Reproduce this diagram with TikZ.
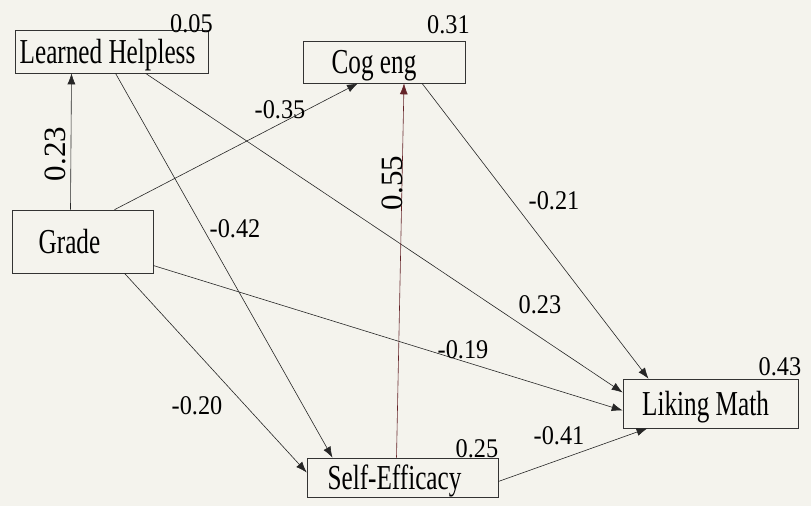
\documentclass[tikz,border=0pt]{standalone}
\usepackage{fontspec}
\setmainfont{Liberation Serif}
\usepackage{graphicx}
\usepackage{tikz}
\usetikzlibrary{arrows.meta,positioning,calc}
\definecolor{papel}{RGB}{244,243,237}
\definecolor{vino}{RGB}{100,35,40}
\newcommand{\estrecho}[1]{\scalebox{0.72}[1]{#1}}
\newcommand{\coefn}[1]{\scalebox{0.9}[1]{#1}}
\tikzset{
  var/.style={draw=black!80,semithick,inner sep=0pt,text depth=0pt,font=\fontsize{35}{36}\selectfont},
  coef/.style={inner sep=0pt,font=\fontsize{27}{28}\selectfont},
  coefv/.style={inner sep=0pt,rotate=90,font=\fontsize{31}{32}\selectfont},
  ruta/.style={-{Latex[length=11pt,width=8pt]},black!85,line width=0.6pt}
}

\begin{document}
\begin{tikzpicture}[x=1pt,y=-1pt]
\fill[papel] (0,0) rectangle (811,506);
\useasboundingbox (0,0) rectangle (811,506);
% variables
\node[var,minimum width=193pt,minimum height=43pt] (lh) at (111.5,51.5) {\estrecho{Learned Helpless}\hspace*{8pt}};
\node[var,minimum width=162pt,minimum height=42pt] (cog) at (384,62) {\estrecho{Cog eng}\hspace*{20pt}};
\node[var,minimum width=141pt,minimum height=63pt] (grade) at (82.5,241.5) {\estrecho{Grade}\hspace*{26pt}};
\node[var,minimum width=191pt,minimum height=39pt] (se) at (402.5,477.5) {\estrecho{Self-Efficacy}\hspace*{16pt}};
\node[var,minimum width=175pt,minimum height=49pt] (lm) at (710.5,403.5) {\estrecho{Liking Math}\hspace*{10pt}};
% R cuadrado
\node[coef] (r-lh) at (191.5,24) {\coefn{0.05}};
\node[coef] (r-cog) at (448.5,25) {\coefn{0.31}};
\node[coef] (r-lm) at (780,367) {\coefn{0.43}};
\node[coef] (r-se) at (477,449) {\coefn{0.25}};
% rutas
\draw[ruta] ([xshift=-12pt]grade.north) -- ([xshift=-40pt]lh.south);
\draw[ruta] ([xshift=32pt]grade.north) -- ([xshift=-26pt]cog.south);
\draw[ruta] ([xshift=4pt]lh.south) -- ([xshift=-70pt]se.north);
\draw[ruta] ([xshift=34pt]lh.south) -- ([yshift=11pt]lm.west);
\draw[ruta] ([yshift=-24pt]grade.east) -- ([yshift=-7pt]lm.west);
\draw[ruta] ([xshift=38pt]cog.south) -- ([xshift=-62pt]lm.north);
\draw[ruta] ([xshift=42pt]grade.south) -- ([yshift=5pt]se.west);
\draw[ruta,vino] ([xshift=-6pt]se.north) -- ([xshift=20pt]cog.south);
\draw[ruta] ([yshift=-4pt]se.east) -- ([xshift=-63pt]lm.south);
% coeficientes
\node[coefv] (c-gl) at (55,154) {0.23};
\node[coef] (c-gc) at (280,110) {\coefn{-0.35}};
\node[coef] (c-ls) at (235,229) {\coefn{-0.42}};
\node[coefv] (c-sc) at (392,183) {0.55};
\node[coef] (c-cl) at (554,201) {\coefn{-0.21}};
\node[coef] (c-ll) at (540,305) {\coefn{0.23}};
\node[coef] (c-gm) at (463,350) {\coefn{-0.19}};
\node[coef] (c-gs) at (197,406) {\coefn{-0.20}};
\node[coef] (c-sl) at (559,436) {\coefn{-0.41}};
\end{tikzpicture}
\end{document}
